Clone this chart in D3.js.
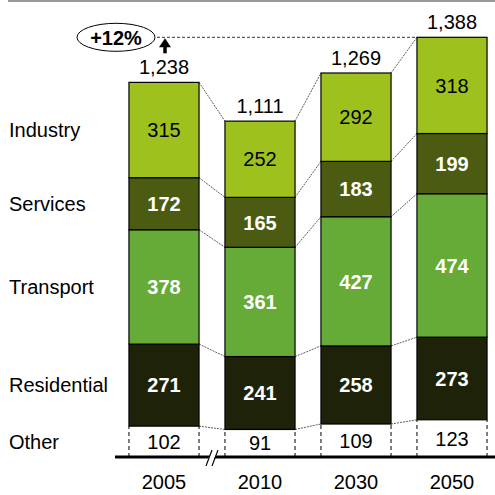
<!DOCTYPE html>
<html>
<head>
<meta charset="utf-8">
<script src="https://cdn.jsdelivr.net/npm/d3@7"></script>
<style>
  body { margin: 0; background: #fff; }
  text { font-family: Arial, "Liberation Sans", sans-serif; }
</style>
</head>
<body>
<div id="chart"></div>
<script>
const years = ["2005", "2010", "2030", "2050"];
const sectors = ["Other", "Residential", "Transport", "Services", "Industry"];
const other = [102, 91, 109, 123];
const residential = [271, 241, 258, 273];
const transport = [378, 361, 427, 474];
const services = [172, 165, 183, 199];
const industry = [315, 252, 292, 318];
const totals = ["1,238", "1,111", "1,269", "1,388"];
const growthLabel = "+12%";

const fills = ["#ffffff", "#1e2208", "#66aa38", "#4b5c12", "#9fc11d"];
const labelColors = ["#000", "#fff", "#fff", "#fff", "#000"];
const labelWeights = ["normal", "bold", "bold", "bold", "normal"];

const W = 495, H = 495;
const svg = d3.select("#chart").append("svg")
    .attr("width", W)
    .attr("height", H);

// Build stacked rows
const series = [other, residential, transport, services, industry];
const rows = years.map((y, i) => {
    const r = { year: y };
    sectors.forEach((s, k) => r[s] = series[k][i]);
    return r;
});
const stacked = d3.stack().keys(sectors)(rows);

const x = d3.scaleBand()
    .domain(years)
    .range([116, 500])
    .paddingInner(0.27)
    .paddingOuter(0.135);

const y = d3.scaleLinear()
    .domain([0, 1388])
    .range([457, 37]);

// top gray rule
svg.append("line")
    .attr("x1", 8).attr("x2", W)
    .attr("y1", 1).attr("y2", 1)
    .attr("stroke", "#999")
    .attr("stroke-width", 2);

// connector lines between bars
stacked.forEach(layer => {
    for (let i = 0; i < years.length - 1; i++) {
        svg.append("line")
            .attr("x1", x(years[i]) + x.bandwidth())
            .attr("y1", y(layer[i][1]))
            .attr("x2", x(years[i + 1]))
            .attr("y2", y(layer[i + 1][1]))
            .attr("stroke", "#333")
            .attr("stroke-width", 0.8)
            .attr("stroke-dasharray", "2,1");
    }
});

// bars
stacked.forEach((layer, k) => {
    const g = svg.append("g");
    if (k === 0) {
        // "Other" segment: white with dashed sides
        g.selectAll("line.l").data(layer).enter().append("line")
            .attr("x1", (d, i) => x(years[i]))
            .attr("x2", (d, i) => x(years[i]))
            .attr("y1", d => y(d[0]))
            .attr("y2", d => y(d[1]))
            .attr("stroke", "#000").attr("stroke-dasharray", "4,3");
        g.selectAll("line.r").data(layer).enter().append("line")
            .attr("x1", (d, i) => x(years[i]) + x.bandwidth())
            .attr("x2", (d, i) => x(years[i]) + x.bandwidth())
            .attr("y1", d => y(d[0]))
            .attr("y2", d => y(d[1]))
            .attr("stroke", "#000").attr("stroke-dasharray", "4,3");
    } else {
        g.selectAll("rect").data(layer).enter().append("rect")
            .attr("x", (d, i) => x(years[i]))
            .attr("y", d => y(d[1]))
            .attr("width", x.bandwidth())
            .attr("height", d => y(d[0]) - y(d[1]))
            .attr("fill", fills[k])
            .attr("stroke", "#000")
            .attr("stroke-width", 1.2);
    }
    g.selectAll("text").data(layer).enter().append("text")
        .attr("x", (d, i) => x(years[i]) + x.bandwidth() / 2)
        .attr("y", d => (y(d[0]) + y(d[1])) / 2)
        .attr("dy", "0.36em")
        .attr("text-anchor", "middle")
        .style("font-size", "20px")
        .style("font-weight", labelWeights[k])
        .attr("fill", labelColors[k])
        .text(d => d.data[sectors[k]]);
});

// totals above bars
const topLayer = stacked[stacked.length - 1];
svg.append("g").selectAll("text").data(topLayer).enter().append("text")
    .attr("x", (d, i) => x(years[i]) + x.bandwidth() / 2)
    .attr("y", d => y(d[1]) - 8)
    .attr("text-anchor", "middle")
    .style("font-size", "20px")
    .text((d, i) => totals[i]);

// sector labels, aligned with first bar
stacked.forEach((layer, k) => {
    const d = layer[0];
    svg.append("text")
        .attr("x", 9)
        .attr("y", (y(d[0]) + y(d[1])) / 2)
        .attr("dy", "0.36em")
        .style("font-size", "20px")
        .text(sectors[k]);
});

// x axis line
const axisY = y(0);
svg.append("line")
    .attr("x1", 115).attr("x2", W)
    .attr("y1", axisY).attr("y2", axisY)
    .attr("stroke", "#000")
    .attr("stroke-width", 3);

// axis break marks
const bx = (x(years[0]) + x.bandwidth() + x(years[1])) / 2;
svg.append("polygon")
    .attr("points", `${bx - 5},${axisY + 3} ${bx - 1},${axisY - 3} ${bx + 5},${axisY - 3} ${bx + 1},${axisY + 3}`)
    .attr("fill", "#fff");
[-3, 3].forEach(off => {
    svg.append("line")
        .attr("x1", bx + off - 3).attr("y1", axisY + 9)
        .attr("x2", bx + off + 3).attr("y2", axisY - 7)
        .attr("stroke", "#000").attr("stroke-width", 1.2);
});

// year labels
svg.append("g").selectAll("text").data(years).enter().append("text")
    .attr("x", d => x(d) + x.bandwidth() / 2)
    .attr("y", 489)
    .attr("text-anchor", "middle")
    .style("font-size", "20px")
    .text(d => d);

// growth indicator
const lastTop = y(topLayer[topLayer.length - 1][1]);
svg.append("line")
    .attr("x1", 157).attr("x2", x(years[years.length - 1]))
    .attr("y1", lastTop).attr("y2", lastTop)
    .attr("stroke", "#000")
    .attr("stroke-width", 0.8)
    .attr("stroke-dasharray", "3,2");

const ax = 165;
svg.append("line")
    .attr("x1", ax).attr("x2", ax)
    .attr("y1", lastTop + 8).attr("y2", lastTop + 16)
    .attr("stroke", "#000").attr("stroke-width", 3.5);
svg.append("path")
    .attr("d", `M${ax - 6},${lastTop + 10} L${ax},${lastTop + 1} L${ax + 6},${lastTop + 10} Z`)
    .attr("fill", "#000");

svg.append("ellipse")
    .attr("cx", 116).attr("cy", lastTop)
    .attr("rx", 39).attr("ry", 14)
    .attr("fill", "#fff")
    .attr("stroke", "#000")
    .attr("stroke-width", 1);
svg.append("text")
    .attr("x", 116).attr("y", lastTop)
    .attr("dy", "0.36em")
    .attr("text-anchor", "middle")
    .style("font-size", "20px")
    .style("font-weight", "bold")
    .text(growthLabel);
</script>
</body>
</html>
